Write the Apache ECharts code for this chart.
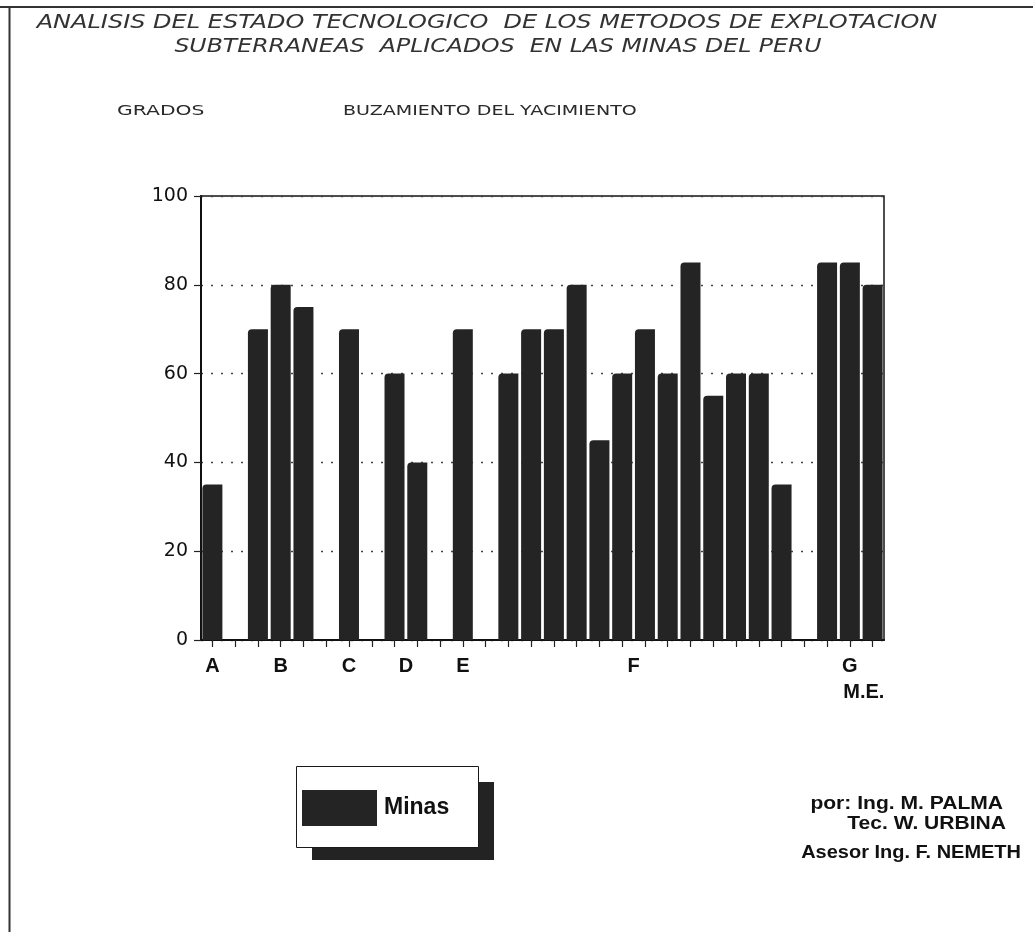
<!DOCTYPE html>
<html>
<head>
<meta charset="utf-8">
<script src="https://cdn.jsdelivr.net/npm/echarts@6/dist/echarts.min.js"></script>
<style>
  html, body { margin: 0; padding: 0; background: #fff; }
  #chart { width: 1033px; height: 932px; }
</style>
</head>
<body>
<div id="chart"></div>
<script>
// Group (mining method) of each slot on the horizontal axis; '' marks a blank slot
const slotGroups = ['A', '', 'B', 'B', 'B', '', 'C', '', 'D', 'D', '', 'E', '',
  'F', 'F', 'F', 'F', 'F', 'F', 'F', 'F', 'F', 'F', 'F', 'F', 'F', '', 'G', 'G', 'G'];

// Dip of the ore body (degrees) for each mine; null = blank slot
const dipDegrees = [35, null, 70, 80, 75, null, 70, null, 60, 40, null, 70, null,
  60, 70, 70, 80, 45, 60, 70, 60, 85, 55, 60, 60, 35, null, 85, 85, 80];

// Group labels and where they sit, in slot units along the axis
const groupNames = ['A', 'B', 'C', 'D', 'E', 'F', 'G'];
const groupCenters = [0, 3, 6, 8.5, 11, 18.5, 28];

const yTicks = [0, 20, 40, 60, 80, 100];
const seriesName = 'Minas';

const titleLines = [
  'ANALISIS DEL ESTADO TECNOLOGICO  DE LOS METODOS DE EXPLOTACION',
  'SUBTERRANEAS  APLICADOS  EN LAS MINAS DEL PERU'
];
const credits = ['por: Ing. M. PALMA', 'Tec. W. URBINA', 'Asesor Ing. F. NEMETH'];

const chart = echarts.init(document.getElementById('chart'), null, { renderer: 'canvas' });

const barColor = '#242424';
const labelFont = 'Liberation Sans, Arial, sans-serif';
const headFont = '"DejaVu Sans", sans-serif';
const creditFont = 'bold 18px "Liberation Sans", Arial, sans-serif';

function groupLabel(v) {
  const i = groupCenters.indexOf(v);
  if (i < 0) return '';
  if (groupNames[i] === 'G') return '{g|G}\n{me|M.E.}';
  return '{g|' + groupNames[i] + '}';
}

function headText(x, y, text, font, scaleX, align, fill) {
  return {
    type: 'text', x: x, y: y, scaleX: scaleX, z: 10,
    style: { text: text, textAlign: align, textVerticalAlign: 'middle', font: font, fill: fill || '#1e1e1e' }
  };
}

const option = {
  backgroundColor: '#ffffff',
  animation: false,
  grid: {
    left: 201, right: 149, top: 196, bottom: 292,
    show: true, borderColor: '#151515', borderWidth: 1.5
  },
  legend: {
    data: [seriesName],
    left: 296, top: 766,
    orient: 'horizontal',
    padding: [24, 28, 21, 6],
    itemWidth: 75, itemHeight: 36,
    icon: 'rect',
    z: 20,
    textStyle: { fontFamily: labelFont, fontWeight: 'bold', fontSize: 23, color: '#111', padding: [0, 0, 0, 2] }
  },
  xAxis: [
    {
      type: 'category',
      data: slotGroups.map((g, i) => g + (i + 1)),
      boundaryGap: true,
      axisLine: { lineStyle: { color: '#111', width: 2 } },
      axisTick: { show: true, interval: 0, alignWithLabel: true, length: 7, lineStyle: { color: '#222', width: 1.2 } },
      axisLabel: { show: false },
      splitLine: { show: false }
    },
    {
      type: 'value',
      position: 'bottom',
      min: -0.5, max: slotGroups.length - 0.5, interval: 0.5,
      axisLine: { show: false },
      axisTick: { show: false },
      splitLine: { show: false },
      axisLabel: {
        show: true, margin: 13, interval: 0, hideOverlap: false,
        showMinLabel: true, showMaxLabel: true,
        formatter: groupLabel,
        rich: {
          g: { fontFamily: labelFont, fontWeight: 'bold', fontSize: 20, color: '#111', lineHeight: 26 },
          me: { fontFamily: labelFont, fontWeight: 'bold', fontSize: 20, color: '#111', lineHeight: 26, padding: [0, 0, 0, 28] }
        }
      }
    }
  ],
  yAxis: {
    type: 'value',
    min: yTicks[0], max: yTicks[yTicks.length - 1], interval: yTicks[1] - yTicks[0],
    axisLine: { show: true, onZero: false, lineStyle: { color: '#111', width: 2 } },
    axisTick: { show: true, length: 7, lineStyle: { color: '#222', width: 1.2 } },
    axisLabel: { margin: 13, fontFamily: 'DejaVu Sans, sans-serif', fontSize: 19, color: '#111' },
    splitLine: { show: true, lineStyle: { color: '#444', width: 1.4, type: [2, 8] } }
  },
  series: [{
    name: seriesName,
    type: 'bar',
    xAxisIndex: 0,
    data: dipDegrees,
    barWidth: 20,
    itemStyle: { color: barColor, borderRadius: [4, 0, 0, 0] }
  }],
  graphic: [
    // page frame
    { type: 'line', shape: { x1: 0, y1: 7, x2: 1033, y2: 7 }, style: { stroke: '#333', lineWidth: 2 } },
    { type: 'line', shape: { x1: 9.5, y1: 7, x2: 9.5, y2: 932 }, style: { stroke: '#333', lineWidth: 2 } },
    // legend card with its drop shadow
    { type: 'rect', z: 1, shape: { x: 312, y: 782, width: 182, height: 78 }, style: { fill: '#232323' } },
    { type: 'rect', z: 2, shape: { x: 296.5, y: 766.5, width: 182, height: 81 }, style: { fill: '#ffffff', stroke: '#1a1a1a', lineWidth: 1 } },
    // heading
    headText(487, 23, titleLines[0], 'italic 20px ' + headFont, 1.2, 'center', '#333'),
    headText(498, 47, titleLines[1], 'italic 20px ' + headFont, 1.18, 'center', '#333'),
    headText(117, 111, 'GRADOS', '14px ' + headFont, 1.45, 'left', '#2a2a2a'),
    headText(343, 111, 'BUZAMIENTO DEL YACIMIENTO', '14px ' + headFont, 1.36, 'left', '#2a2a2a'),
    // authors
    headText(1003, 804, credits[0], creditFont, 1.17, 'right', '#111'),
    headText(1006, 824, credits[1], creditFont, 1.17, 'right', '#111'),
    headText(1021, 853, credits[2], creditFont, 1.11, 'right', '#111')
  ]
};

chart.setOption(option);
</script>
</body>
</html>
